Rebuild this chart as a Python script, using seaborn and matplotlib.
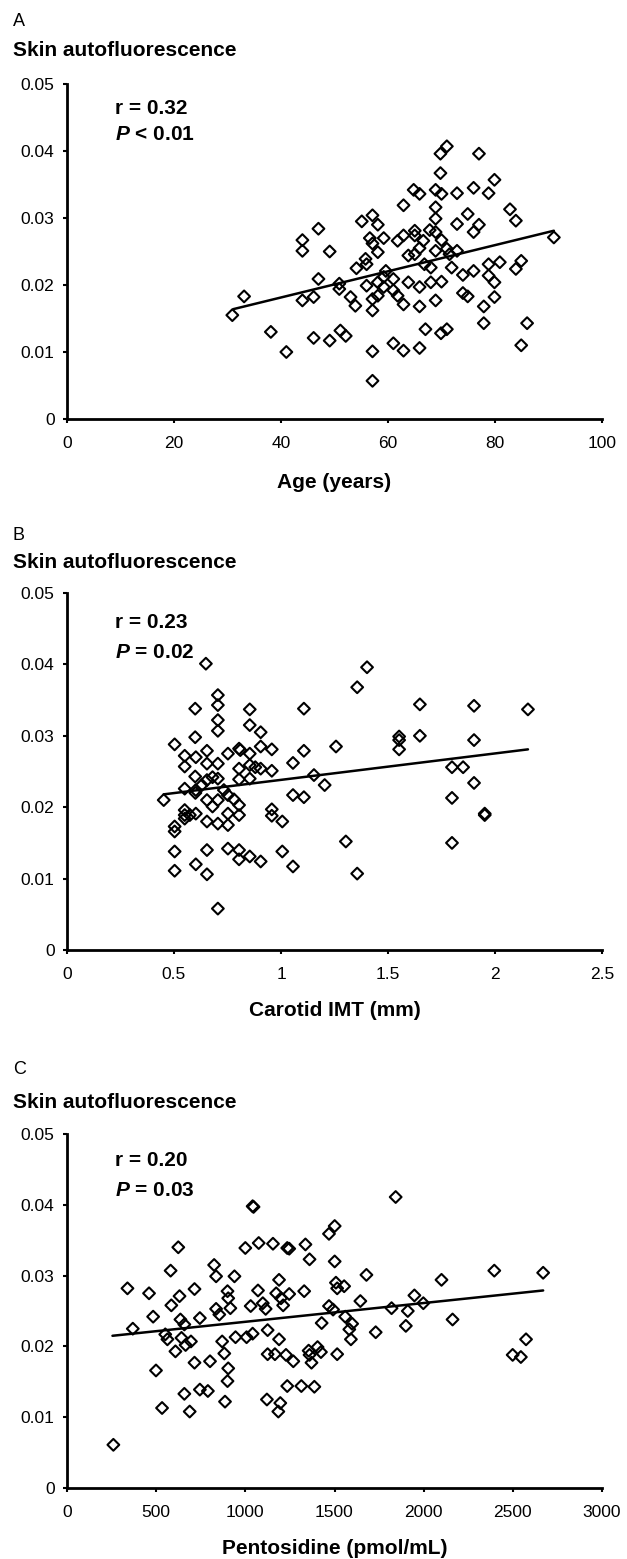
"""
Skin autofluorescence vs age, carotid IMT and pentosidine (three stacked scatter panels).
"""
import numpy as np
import matplotlib
matplotlib.use("Agg")
import matplotlib.pyplot as plt
import seaborn as sns

# ---- panel A: age ----
age_years = [30.9, 33.1, 38.1, 41.0, 44.0, 44.0, 44.0, 46.1, 46.1, 47.0, 47.0, 49.1, 49.1,
             50.9, 50.9, 51.1, 52.1, 53.0, 53.9, 54.1, 55.1, 55.8, 56.0, 56.0, 56.6, 57.1,
             57.1, 57.1, 57.1, 57.1, 57.1, 58.1, 58.1, 58.1, 58.1, 59.2, 59.2, 59.2, 61.0,
             61.0, 61.0, 61.8, 61.8, 62.9, 62.9, 62.9, 62.9, 63.8, 63.8, 64.8, 65.0, 65.0,
             65.0, 65.9, 65.9, 65.9, 65.9, 65.9, 66.8, 67.0, 67.8, 68.0, 68.0, 68.9, 68.9,
             68.9, 68.9, 68.9, 68.9, 69.8, 69.8, 70.0, 70.0, 70.0, 69.9, 71.0, 71.0, 71.0,
             71.9, 72.9, 72.9, 72.9, 74.0, 74.0, 74.9, 74.9, 76.0, 76.0, 76.0, 77.0, 77.0,
             77.9, 77.9, 78.8, 78.8, 78.8, 79.9, 79.9, 79.9, 80.9, 82.8, 83.9, 83.9, 84.9,
             84.9, 86.0, 91.0, 71.5, 66.6, 59.6]
af_age = [0.0155, 0.0183, 0.0130, 0.0100, 0.0267, 0.0251, 0.0177, 0.0182, 0.0121, 0.0284,
          0.0209, 0.0250, 0.0117, 0.0202, 0.0194, 0.0132, 0.0124, 0.0182, 0.0169, 0.0225,
          0.0295, 0.0239, 0.0231, 0.0199, 0.0270, 0.0304, 0.0262, 0.0179, 0.0162, 0.0101,
          0.0057, 0.0290, 0.0249, 0.0204, 0.0184, 0.0270, 0.0212, 0.0197, 0.0209, 0.0192,
          0.0113, 0.0266, 0.0184, 0.0319, 0.0274, 0.0171, 0.0102, 0.0244, 0.0204, 0.0342,
          0.0281, 0.0274, 0.0246, 0.0336, 0.0255, 0.0197, 0.0168, 0.0106, 0.0231, 0.0134,
          0.0282, 0.0204, 0.0226, 0.0342, 0.0316, 0.0299, 0.0279, 0.0251, 0.0177, 0.0396,
          0.0367, 0.0336, 0.0267, 0.0205, 0.0128, 0.0407, 0.0134, 0.0254, 0.0226, 0.0337,
          0.0291, 0.0251, 0.0215, 0.0188, 0.0306, 0.0183, 0.0345, 0.0279, 0.0221, 0.0396,
          0.0290, 0.0168, 0.0143, 0.0337, 0.0231, 0.0214, 0.0357, 0.0204, 0.0182, 0.0234,
          0.0313, 0.0296, 0.0224, 0.0236, 0.0110, 0.0143, 0.0271, 0.0246, 0.0266, 0.0221]
fit_age_x = [31.1, 91.0]
fit_age_y = [0.0164, 0.0281]

# ---- panel B: carotid IMT ----
imt_mm = [0.452, 0.503, 0.503, 0.503, 0.503, 0.503, 0.550, 0.550, 0.550, 0.550, 0.550,
          0.599, 0.599, 0.602, 0.599, 0.602, 0.602, 0.602, 0.649, 0.654, 0.654, 0.654,
          0.654, 0.654, 0.654, 0.654, 0.705, 0.705, 0.705, 0.705, 0.705, 0.705, 0.705,
          0.705, 0.705, 0.752, 0.752, 0.752, 0.752, 0.752, 0.804, 0.804, 0.804, 0.804,
          0.804, 0.804, 0.804, 0.854, 0.854, 0.854, 0.854, 0.854, 0.854, 0.905, 0.905,
          0.905, 0.905, 0.957, 0.957, 0.957, 0.957, 1.006, 1.006, 1.056, 1.056, 1.056,
          1.107, 1.107, 1.107, 1.154, 1.204, 1.257, 1.303, 1.356, 1.356, 1.402, 1.552,
          1.552, 1.552, 1.649, 1.649, 1.799, 1.799, 1.799, 1.851, 1.902, 1.902, 1.902,
          1.952, 1.952, 2.154, 0.600, 0.630, 0.680, 0.733, 0.780, 0.680, 0.574, 0.550,
          0.880, 0.810]
af_imt = [0.0210, 0.0288, 0.0173, 0.0166, 0.0138, 0.0111, 0.0272, 0.0257, 0.0226, 0.0196,
          0.0189, 0.0338, 0.0298, 0.0270, 0.0243, 0.0224, 0.0191, 0.0120, 0.0401, 0.0279,
          0.0261, 0.0238, 0.0210, 0.0180, 0.0140, 0.0106, 0.0357, 0.0343, 0.0322, 0.0307,
          0.0261, 0.0240, 0.0210, 0.0177, 0.0058, 0.0275, 0.0217, 0.0191, 0.0175, 0.0142,
          0.0282, 0.0254, 0.0239, 0.0203, 0.0189, 0.0140, 0.0127, 0.0337, 0.0315, 0.0275,
          0.0259, 0.0240, 0.0131, 0.0305, 0.0285, 0.0254, 0.0124, 0.0281, 0.0251, 0.0197,
          0.0188, 0.0180, 0.0138, 0.0262, 0.0217, 0.0117, 0.0338, 0.0279, 0.0214, 0.0245,
          0.0231, 0.0285, 0.0152, 0.0368, 0.0107, 0.0396, 0.0299, 0.0294, 0.0281, 0.0344,
          0.0300, 0.0256, 0.0213, 0.0150, 0.0256, 0.0342, 0.0294, 0.0234, 0.0189, 0.0191,
          0.0337, 0.0220, 0.0231, 0.0242, 0.0224, 0.0211, 0.0201, 0.0189, 0.0184, 0.0256,
          0.0280]
fit_imt_x = [0.452, 2.154]
fit_imt_y = [0.0218, 0.0281]

# ---- panel C: pentosidine ----
pentosidine = [260, 339, 369, 460, 483, 499, 533, 551, 563, 581, 585, 608, 624, 631, 636,
               642, 658, 658, 665, 695, 688, 715, 715, 745, 745, 790, 802, 825, 836, 836,
               854, 870, 882, 886, 900, 904, 904, 900, 916, 939, 945, 1000, 1007, 1030,
               1041, 1041, 1046, 1071, 1075, 1098, 1114, 1121, 1125, 1125, 1155, 1166,
               1173, 1189, 1189, 1185, 1196, 1200, 1212, 1235, 1246, 1228, 1235, 1246,
               1269, 1314, 1330, 1337, 1355, 1360, 1360, 1371, 1387, 1405, 1424, 1428,
               1469, 1469, 1492, 1501, 1501, 1508, 1515, 1515, 1554, 1560, 1583, 1592,
               1599, 1645, 1679, 1731, 1820, 1843, 1900, 1911, 1948, 1998, 2100, 2162,
               2396, 2499, 2545, 2574, 2670]
af_pent = [0.0061, 0.0282, 0.0225, 0.0275, 0.0242, 0.0166, 0.0113, 0.0217, 0.0210, 0.0307,
           0.0258, 0.0193, 0.0340, 0.0271, 0.0238, 0.0212, 0.0231, 0.0133, 0.0202, 0.0207,
           0.0108, 0.0281, 0.0177, 0.0240, 0.0139, 0.0137, 0.0179, 0.0315, 0.0299, 0.0253,
           0.0245, 0.0207, 0.0190, 0.0122, 0.0278, 0.0268, 0.0169, 0.0151, 0.0254, 0.0299,
           0.0213, 0.0339, 0.0213, 0.0257, 0.0218, 0.0398, 0.0397, 0.0279, 0.0346, 0.0261,
           0.0253, 0.0125, 0.0223, 0.0189, 0.0345, 0.0189, 0.0275, 0.0294, 0.0210, 0.0108,
           0.0120, 0.0268, 0.0258, 0.0339, 0.0338, 0.0188, 0.0144, 0.0274, 0.0179, 0.0144,
           0.0278, 0.0344, 0.0194, 0.0323, 0.0188, 0.0177, 0.0143, 0.0199, 0.0192, 0.0233,
           0.0359, 0.0257, 0.0252, 0.0370, 0.0320, 0.0290, 0.0282, 0.0189, 0.0285, 0.0242,
           0.0224, 0.0210, 0.0232, 0.0264, 0.0301, 0.0220, 0.0254, 0.0411, 0.0229, 0.0250,
           0.0272, 0.0261, 0.0294, 0.0238, 0.0307, 0.0188, 0.0185, 0.0210, 0.0304]
fit_pent_x = [255, 2670]
fit_pent_y = [0.0215, 0.0279]

y_ticks = [0, 0.01, 0.02, 0.03, 0.04, 0.05]
y_ticklabels = ["0", "0.01", "0.02", "0.03", "0.04", "0.05"]

panels = [
    dict(letter="A", x=age_years, y=af_age, fx=fit_age_x, fy=fit_age_y,
         xmax=100, xticks=[0, 20, 40, 60, 80, 100],
         xticklabels=["0", "20", "40", "60", "80", "100"],
         xlabel="Age (years)", r="r = 0.32", p=r"$\bf{\it{P}}$ < 0.01",
         top=84, bottom=419, letter_y=21, title_y=50, xlabel_y=482, r_y=108, p_y=134),
    dict(letter="B", x=imt_mm, y=af_imt, fx=fit_imt_x, fy=fit_imt_y,
         xmax=2.5, xticks=[0, 0.5, 1, 1.5, 2, 2.5],
         xticklabels=["0", "0.5", "1", "1.5", "2", "2.5"],
         xlabel="Carotid IMT (mm)", r="r = 0.23", p=r"$\bf{\it{P}}$ = 0.02",
         top=593, bottom=950, letter_y=535, title_y=563, xlabel_y=1010, r_y=622, p_y=652),
    dict(letter="C", x=pentosidine, y=af_pent, fx=fit_pent_x, fy=fit_pent_y,
         xmax=3000, xticks=[0, 500, 1000, 1500, 2000, 2500, 3000],
         xticklabels=["0", "500", "1000", "1500", "2000", "2500", "3000"],
         xlabel="Pentosidine (pmol/mL)", r="r = 0.20", p=r"$\bf{\it{P}}$ = 0.03",
         top=1134, bottom=1488, letter_y=1070, title_y=1103, xlabel_y=1548, r_y=1160, p_y=1190),
]

sns.set_style("ticks")
plt.rcParams["font.family"] = ["Liberation Sans", "DejaVu Sans"]
plt.rcParams["mathtext.fontset"] = "custom"
plt.rcParams["mathtext.it"] = "Liberation Sans:italic:bold"
plt.rcParams["mathtext.bf"] = "Liberation Sans:bold"
for key in ["text.color", "axes.labelcolor", "xtick.color", "ytick.color", "axes.edgecolor"]:
    plt.rcParams[key] = "black"

W, H = 627, 1559
fig = plt.figure(figsize=(W / 100, H / 100), dpi=100)
left, right = 67, 602

for p in panels:
    ax = fig.add_axes([left / W, 1 - p["bottom"] / H, (right - left) / W,
                       (p["bottom"] - p["top"]) / H])
    sns.scatterplot(x=p["x"], y=p["y"], marker="D", s=36, facecolor="none",
                    edgecolor="black", linewidth=1.5, ax=ax, zorder=3)
    sns.lineplot(x=p["fx"], y=p["fy"], color="black", linewidth=1.8, ax=ax, zorder=2)
    ax.set_xlim(0, p["xmax"])
    ax.set_ylim(0, 0.05)
    ax.set_xticks(p["xticks"])
    ax.set_xticklabels(p["xticklabels"])
    ax.set_yticks(y_ticks)
    ax.set_yticklabels(y_ticklabels)
    ax.tick_params(labelsize=12.5, length=3, width=1.5, color="black")
    ax.tick_params(axis="x", pad=9)
    ax.tick_params(axis="y", pad=6)
    for s in ["left", "bottom"]:
        ax.spines[s].set_linewidth(2)
    sns.despine(ax=ax)
    ax.set_xlabel("")
    ax.set_ylabel("")

    # annotations
    fig.text(115 / W, 1 - p["r_y"] / H, p["r"], fontsize=15, fontweight="bold",
             va="center", ha="left")
    fig.text(115 / W, 1 - p["p_y"] / H, p["p"], fontsize=15, fontweight="bold",
             va="center", ha="left",
             bbox=dict(facecolor="white", edgecolor="none", pad=3), zorder=10)
    fig.text(13 / W, 1 - p["letter_y"] / H, p["letter"], fontsize=13, va="center", ha="left")
    fig.text(13 / W, 1 - p["title_y"] / H, "Skin autofluorescence", fontsize=15,
             fontweight="bold", va="center", ha="left")
    fig.text((left + right) / 2 / W, 1 - p["xlabel_y"] / H, p["xlabel"], fontsize=15,
             fontweight="bold", va="center", ha="center")

fig.savefig("out.png", dpi=100)
